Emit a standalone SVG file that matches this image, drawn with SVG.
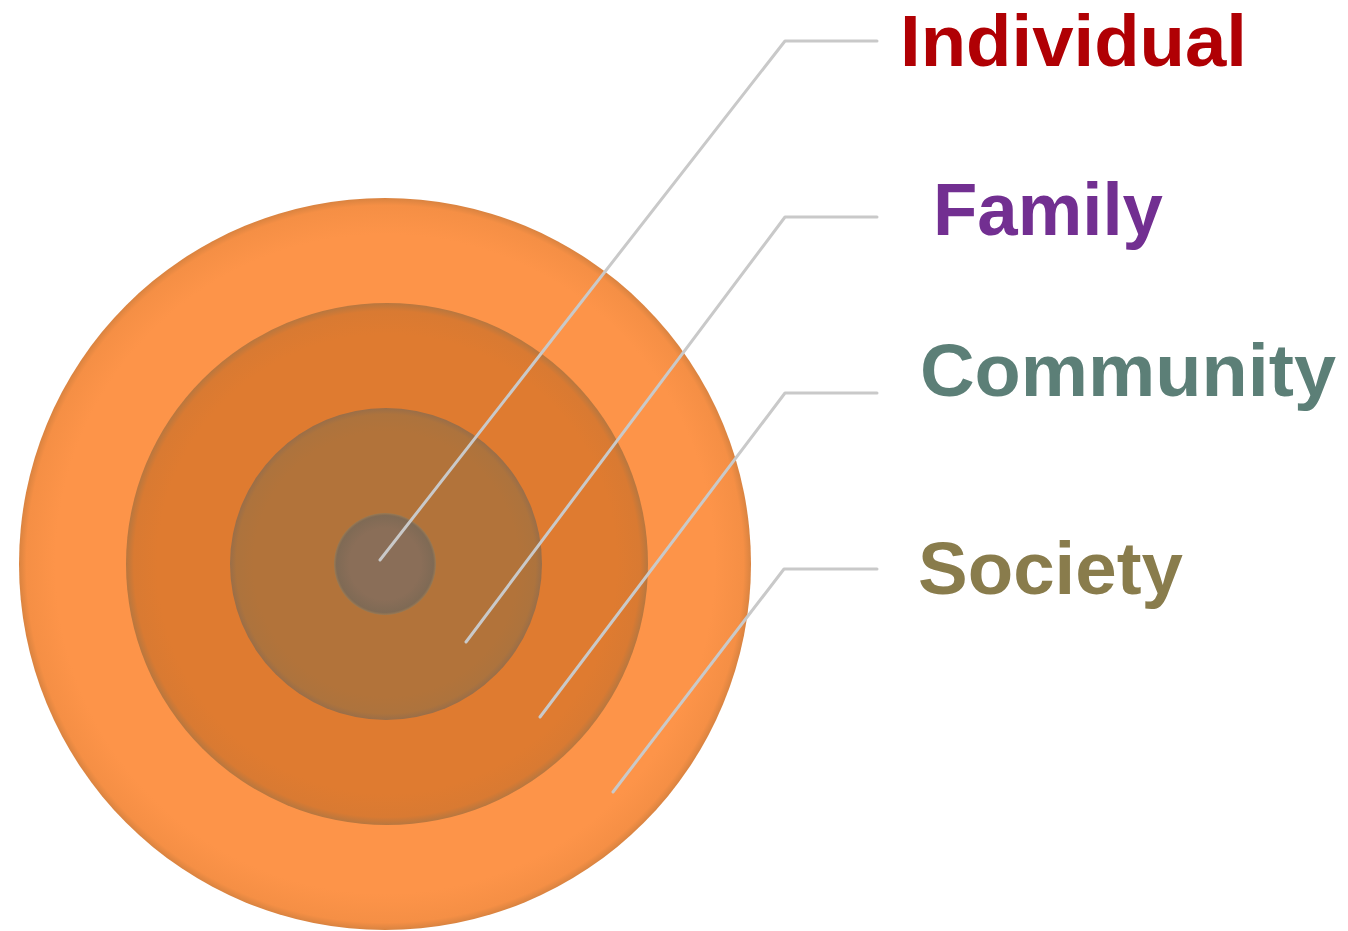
<svg xmlns="http://www.w3.org/2000/svg" width="1348" height="931" viewBox="0 0 1348 931">
<style>
.lbl{font-family:"Liberation Sans","DejaVu Sans",sans-serif;font-weight:bold;font-size:75px}
.conn{fill:none;stroke:#C9C9C9;stroke-width:3;stroke-linecap:round;stroke-linejoin:round}
</style>
<defs>
<radialGradient id="g1" cx="0.5" cy="0.5" r="0.5">
<stop offset="0.9" stop-color="#FD9449"/>
<stop offset="0.98" stop-color="#F58F45"/>
<stop offset="1" stop-color="#D98340"/>
</radialGradient>
<radialGradient id="g2" cx="0.5" cy="0.5" r="0.5">
<stop offset="0.88" stop-color="#DF7B30"/>
<stop offset="0.97" stop-color="#D97A32"/>
<stop offset="1" stop-color="#B8773F"/>
</radialGradient>
<radialGradient id="g3" cx="0.5" cy="0.5" r="0.5">
<stop offset="0.85" stop-color="#B2733A"/>
<stop offset="0.96" stop-color="#AD733D"/>
<stop offset="1" stop-color="#9A6E48"/>
</radialGradient>
<radialGradient id="g4" cx="0.5" cy="0.5" r="0.5">
<stop offset="0.7" stop-color="#8A6E58"/>
<stop offset="0.95" stop-color="#7F6A55"/>
<stop offset="1" stop-color="#9C7A52"/>
</radialGradient>
</defs>
<g id="society-circle"><circle cx="385" cy="564" r="366" fill="url(#g1)"/></g>
<g id="community-circle"><circle cx="387" cy="564" r="261" fill="url(#g2)"/></g>
<g id="family-circle"><circle cx="386" cy="564" r="156" fill="url(#g3)"/></g>
<g id="individual-circle"><circle cx="385" cy="564" r="51" fill="url(#g4)"/></g>
<g id="connectors">
<polyline class="conn" points="380,560 785,41 877,41"/>
<polyline class="conn" points="466,642 785,217 877,217"/>
<polyline class="conn" points="540,717 785,393 877,393"/>
<polyline class="conn" points="613,792 784,569 877,569"/>
</g>
<g id="label-individual"><text class="lbl" x="900" y="66" fill="#B00004" style="font-size:72px" textLength="347" lengthAdjust="spacingAndGlyphs">Individual</text></g>
<g id="label-family"><text class="lbl" x="933" y="235" fill="#722F91" textLength="230" lengthAdjust="spacingAndGlyphs">Family</text></g>
<g id="label-community"><text class="lbl" x="920" y="396" fill="#5C7F77" textLength="416" lengthAdjust="spacingAndGlyphs">Community</text></g>
<g id="label-society"><text class="lbl" x="918" y="594" fill="#897C4C" textLength="265" lengthAdjust="spacingAndGlyphs">Society</text></g>
</svg>
